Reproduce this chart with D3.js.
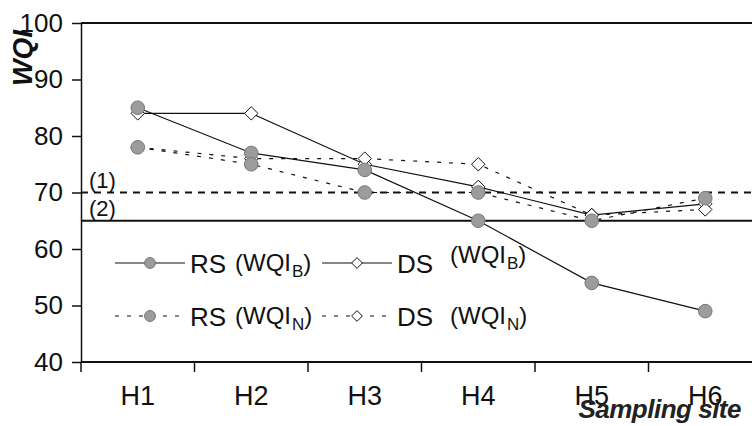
<!DOCTYPE html>
<html>
<head>
<meta charset="utf-8">
<script src="https://cdn.jsdelivr.net/npm/d3@7"></script>
<style>
  body { margin: 0; background: #fff; }
  svg { display: block; font-family: "Liberation Sans", Arial, sans-serif; }
</style>
</head>
<body>
<svg id="drawing_region"></svg>
<script>
// data
const sites = ['H1', 'H2', 'H3', 'H4', 'H5', 'H6'];
const rsB = [85, 77, 74, 65, 54, 49];
const dsB = [84, 84, 75, 71, 66, 68];
const rsN = [78, 75, 70, 70, 65, 69];
const dsN = [78, 76, 76, 75, 66, 67];
const yTicks = [40, 50, 60, 70, 80, 90, 100];
const refLevels = [70, 65];
const refLabels = ['(1)', '(2)'];

const config = {
    width: 752,
    height: 426,
    margin: {top: 23, right: -10, bottom: 64, left: 81}
};

const svg = d3.select('#drawing_region')
    .attr('width', config.width)
    .attr('height', config.height);

const x0 = config.margin.left;
const x1 = config.width - config.margin.right;
const y0 = config.height - config.margin.bottom;
const y1 = config.margin.top;

const x = d3.scaleBand().domain(sites).range([x0, x1]).padding(0);
const y = d3.scaleLinear().domain([40, 100]).range([y0, y1]);
const cx = d => x(d) + x.bandwidth() / 2;

// frame
svg.append('line').attr('x1', x0).attr('x2', x1).attr('y1', y1).attr('y2', y1)
    .attr('stroke', '#111').attr('stroke-width', 2);
svg.append('line').attr('x1', x0).attr('x2', x1).attr('y1', y0).attr('y2', y0)
    .attr('stroke', '#111').attr('stroke-width', 2);

// y axis
const yAxis = svg.append('g')
    .attr('transform', `translate(${x0},0)`)
    .call(d3.axisLeft(y).tickValues(yTicks).tickSize(9).tickPadding(9).tickSizeOuter(0));
yAxis.select('.domain').attr('stroke', '#111').attr('stroke-width', 1.5);
yAxis.selectAll('.tick line').attr('stroke', '#111').attr('stroke-width', 1.5);
yAxis.selectAll('text').style('font-size', '26px').attr('fill', '#111')
    .style('font-family', '"Liberation Sans", Arial, sans-serif');

// x axis: labels at band centres, ticks at band edges
const xAxis = svg.append('g')
    .attr('transform', `translate(0,${y0})`)
    .call(d3.axisBottom(x).tickSize(0).tickPadding(24));
xAxis.select('.domain').remove();
xAxis.selectAll('text').style('font-size', '27px').attr('fill', '#111')
    .style('font-family', '"Liberation Sans", Arial, sans-serif');

svg.append('g').selectAll('line')
    .data(sites)
    .join('line')
    .attr('x1', d => x(d)).attr('x2', d => x(d))
    .attr('y1', y0).attr('y2', y0 + 10)
    .attr('stroke', '#111').attr('stroke-width', 1.5);

// axis titles
svg.append('text')
    .attr('transform', `translate(32,58) rotate(-90)`)
    .attr('text-anchor', 'middle')
    .style('font-size', '28px')
    .style('font-weight', 'bold')
    .style('font-style', 'italic')
    .attr('fill', '#111')
    .text('WQI');

svg.append('text')
    .attr('x', 741).attr('y', 418)
    .attr('text-anchor', 'end')
    .style('font-size', '26px')
    .style('font-weight', 'bold')
    .style('font-style', 'italic')
    .style('letter-spacing', '-0.5px')
    .attr('fill', '#222')
    .text('Sampling site');

// reference lines (1) and (2)
refLevels.forEach((v, i) => {
    svg.append('line')
        .attr('x1', x0).attr('x2', x1)
        .attr('y1', y(v)).attr('y2', y(v))
        .attr('stroke', '#111')
        .attr('stroke-width', 2)
        .attr('stroke-dasharray', i === 0 ? '7,6' : null);
    svg.append('text')
        .attr('x', 89)
        .attr('y', y(v) - 5)
        .style('font-size', '22px')
        .attr('fill', '#111')
        .text(refLabels[i]);
});

// series
const series = [
    {values: dsB, marker: 'diamond', dash: null},
    {values: dsN, marker: 'diamond', dash: '4,8'},
    {values: rsB, marker: 'circle', dash: null},
    {values: rsN, marker: 'circle', dash: '4,8'}
];

const line = d3.line().x((d, i) => cx(sites[i])).y(d => y(d));

series.forEach(s => {
    svg.append('path')
        .datum(s.values)
        .attr('d', line)
        .attr('fill', 'none')
        .attr('stroke', '#111')
        .attr('stroke-width', 1.2)
        .attr('stroke-dasharray', s.dash);
});

const drawMarker = (g, type, px, py, scale) => {
    if (type === 'circle') {
        g.append('circle')
            .attr('cx', px).attr('cy', py).attr('r', 6.8 * scale)
            .attr('fill', '#9c9c9c').attr('stroke', '#777').attr('stroke-width', 1);
    } else {
        g.append('path')
            .attr('d', d3.symbol().type(d3.symbolDiamond2).size(115 * scale * scale)())
            .attr('transform', `translate(${px},${py})`)
            .attr('fill', '#fff').attr('stroke', '#111').attr('stroke-width', 1);
    }
};

const marks = svg.append('g');
series.forEach(s => {
    s.values.forEach((v, i) => drawMarker(marks, s.marker, cx(sites[i]), y(v), 1));
});

// legend
const legendRows = [
    {y: 263, dash: null, sub: 'B', subRaise: [0, -8]},
    {y: 316, dash: '4,8', sub: 'N', subRaise: [0, 0]}
];
const legend = svg.append('g');
legendRows.forEach(r => {
    [{x: 115, marker: 'circle', name: 'RS', px: 235}, {x: 322, marker: 'diamond', name: 'DS', px: 450}]
        .forEach((e, k) => {
            legend.append('line')
                .attr('x1', e.x).attr('x2', e.x + 70)
                .attr('y1', r.y).attr('y2', r.y)
                .attr('stroke', '#111').attr('stroke-width', 1.2)
                .attr('stroke-dasharray', r.dash);
            drawMarker(legend, e.marker, e.x + 35, r.y, 0.8);
            legend.append('text')
                .attr('x', e.x + 75).attr('y', r.y + 10)
                .style('font-size', '26px').attr('fill', '#111')
                .text(e.name);
            const t = legend.append('text')
                .attr('x', e.px).attr('y', r.y + 8 + r.subRaise[k])
                .style('font-size', '24px').attr('fill', '#111');
            t.append('tspan').text('(WQI');
            t.append('tspan').attr('dy', 6).attr('dx', 1).style('font-size', '17px').text(r.sub);
            t.append('tspan').attr('dy', -6).text(')');
        });
});
</script>
</body>
</html>
